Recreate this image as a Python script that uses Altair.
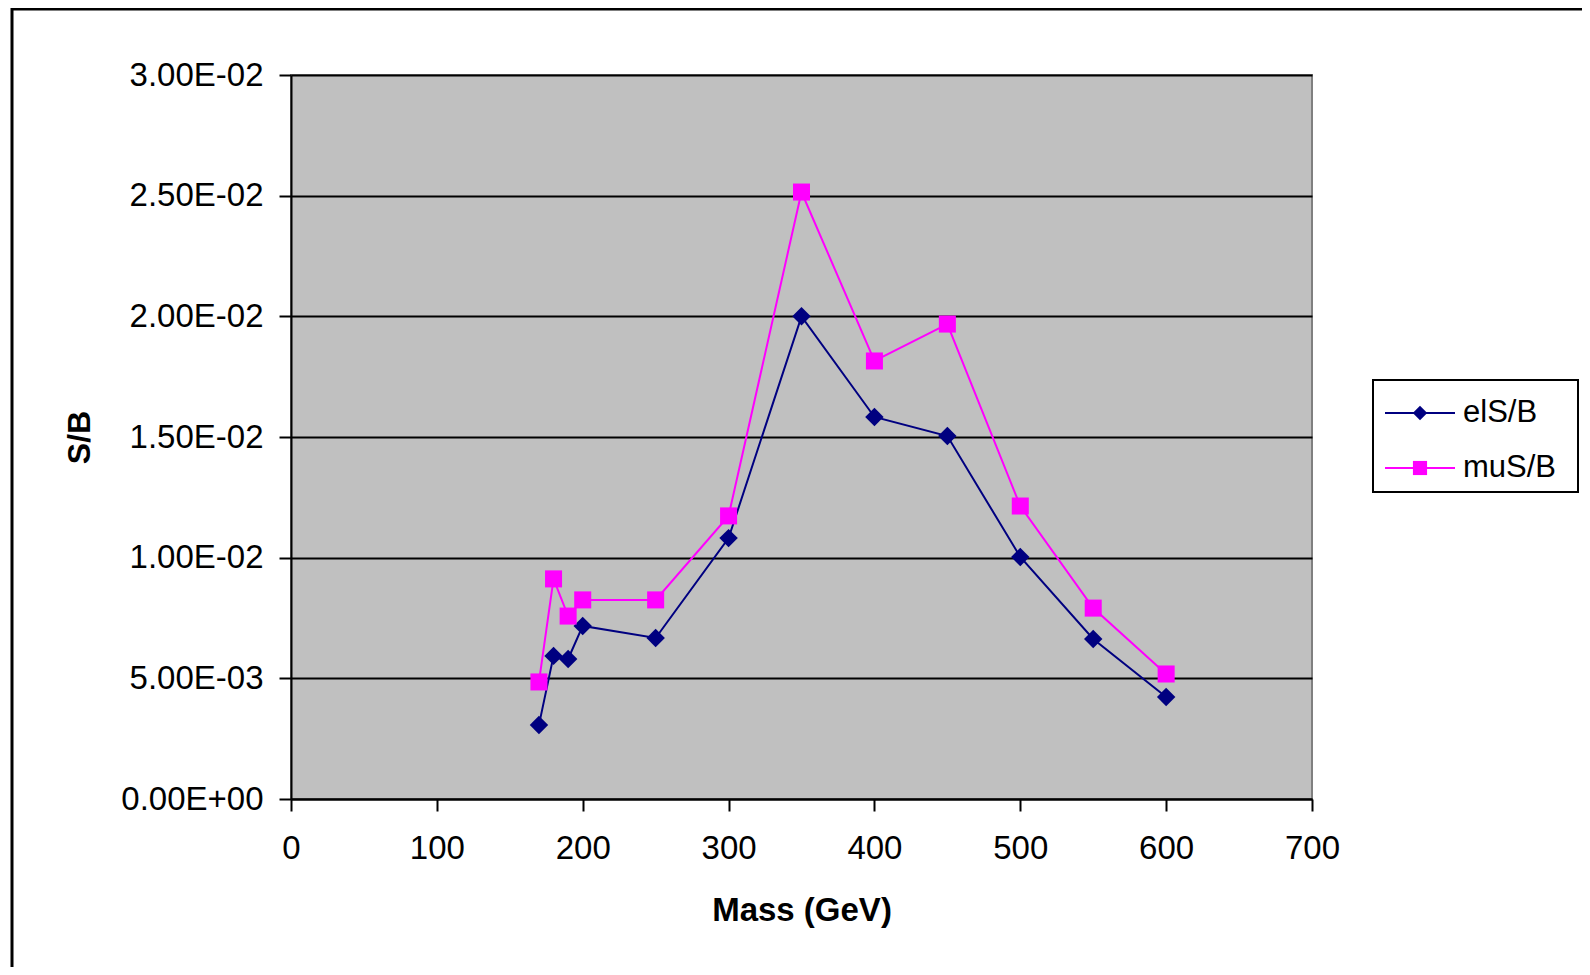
import altair as alt
import pandas as pd

# ---- data ----
mass = [170, 180, 190, 200, 250, 300, 350, 400, 450, 500, 550, 600]
el_sb = [0.00307, 0.00593, 0.00580, 0.00717, 0.00667, 0.01081, 0.02000, 0.01583, 0.01504, 0.01003, 0.00663, 0.00423]
mu_sb = [0.00485, 0.00912, 0.00758, 0.00825, 0.00825, 0.01173, 0.02515, 0.01815, 0.01968, 0.01214, 0.00791, 0.00518]
series_names = ["elS/B", "muS/B"]
series_colors = ["#000080", "#FF00FF"]
series_shapes = ["diamond", "square"]
x_ticks = [0, 100, 200, 300, 400, 500, 600, 700]
y_ticks = [0.0, 0.005, 0.01, 0.015, 0.02, 0.025, 0.03]
y_tick_labels = ["0.00E+00", "5.00E-03", "1.00E-02", "1.50E-02", "2.00E-02", "2.50E-02", "3.00E-02"]

rows = []
for s, vals in zip(series_names, [el_sb, mu_sb]):
    for m, v in zip(mass, vals):
        rows.append({"mass": m, "value": v, "series": s})
df = pd.DataFrame(rows)

FONT = "Liberation Sans"
W, H = 1021, 724

label_expr = "[" + ",".join("'%s'" % t for t in y_tick_labels) + "][round(datum.value/0.005)]"

x_enc = alt.X(
    "mass:Q",
    scale=alt.Scale(domain=[0, 700], nice=False, zero=False),
    axis=alt.Axis(
        values=x_ticks, title="Mass (GeV)", grid=False,
        labelFontSize=33, labelFont=FONT, labelColor="black", labelPadding=21,
        tickSize=12, tickColor="black", tickWidth=2,
        domainColor="black", domainWidth=2,
        titleFontSize=33, titleFont=FONT, titleFontWeight="bold", titleColor="black",
        titlePadding=29, labelFlush=False, zindex=1,
    ),
)
y_enc = alt.Y(
    "value:Q",
    scale=alt.Scale(domain=[0, 0.03], nice=False),
    axis=alt.Axis(
        values=y_ticks, labelExpr=label_expr, title="S/B", grid=True,
        gridColor="black", gridWidth=2, gridOpacity=1,
        labelFontSize=33, labelFont=FONT, labelColor="black", labelPadding=16,
        tickSize=12, tickColor="black", tickWidth=2,
        domainColor="black", domainWidth=2,
        titleFontSize=32, titleFont=FONT, titleFontWeight="bold", titleColor="black",
        titlePadding=24, labelFlush=False,
    ),
)
color_enc = alt.Color("series:N", scale=alt.Scale(domain=series_names, range=series_colors), legend=None)

base = alt.Chart(df)
lines = base.mark_line(strokeWidth=2).encode(x=x_enc, y=y_enc, color=color_enc, detail="series:N")
points = base.mark_point(filled=True, opacity=1, strokeWidth=0).encode(
    x="mass:Q", y="value:Q", color=color_enc,
    shape=alt.Shape("series:N", scale=alt.Scale(domain=series_names, range=series_shapes), legend=None),
    size=alt.Size("series:O", scale=alt.Scale(domain=series_names, range=[340, 290]), legend=None),
)

one = alt.Data(values=[{}])
frame = alt.Chart(one).mark_rect(fillOpacity=0, stroke="black", strokeWidth=3).encode(
    x=alt.value(-279), y=alt.value(-66), x2=alt.value(1400), y2=alt.value(1000)
)
legend_box = alt.Chart(one).mark_rect(fill="white", stroke="black", strokeWidth=2).encode(
    x=alt.value(1082), y=alt.value(305), x2=alt.value(1287), y2=alt.value(417)
)
legend_layers = [legend_box]
legend_y = [338, 393]
legend_sizes = [210, 200]
for name, col, shp, ly, sz in zip(series_names, series_colors, series_shapes, legend_y, legend_sizes):
    d = alt.Data(values=[{"series": name}])
    legend_layers.append(alt.Chart(d).mark_rule(color=col, strokeWidth=2).encode(
        x=alt.value(1094), x2=alt.value(1164), y=alt.value(ly)))
    legend_layers.append(alt.Chart(d).mark_point(filled=True, opacity=1, color=col, shape=shp, size=sz, strokeWidth=0).encode(
        x=alt.value(1129), y=alt.value(ly)))
    legend_layers.append(alt.Chart(d).mark_text(align="left", baseline="middle", fontSize=31, font=FONT, color="black").encode(
        x=alt.value(1172), y=alt.value(ly), text="series:N"))

chart = alt.layer(frame, lines, points, *legend_layers).properties(
    width=W, height=H,
    padding={"left": 283, "top": 67, "right": 270, "bottom": 168},
    autosize=alt.AutoSizeParams(type="none"),
    background="white",
).configure_view(
    fill="#C0C0C0", stroke="#808080", strokeWidth=2
)

chart.save("out.html", embed_options={"renderer": "svg", "actions": False})
